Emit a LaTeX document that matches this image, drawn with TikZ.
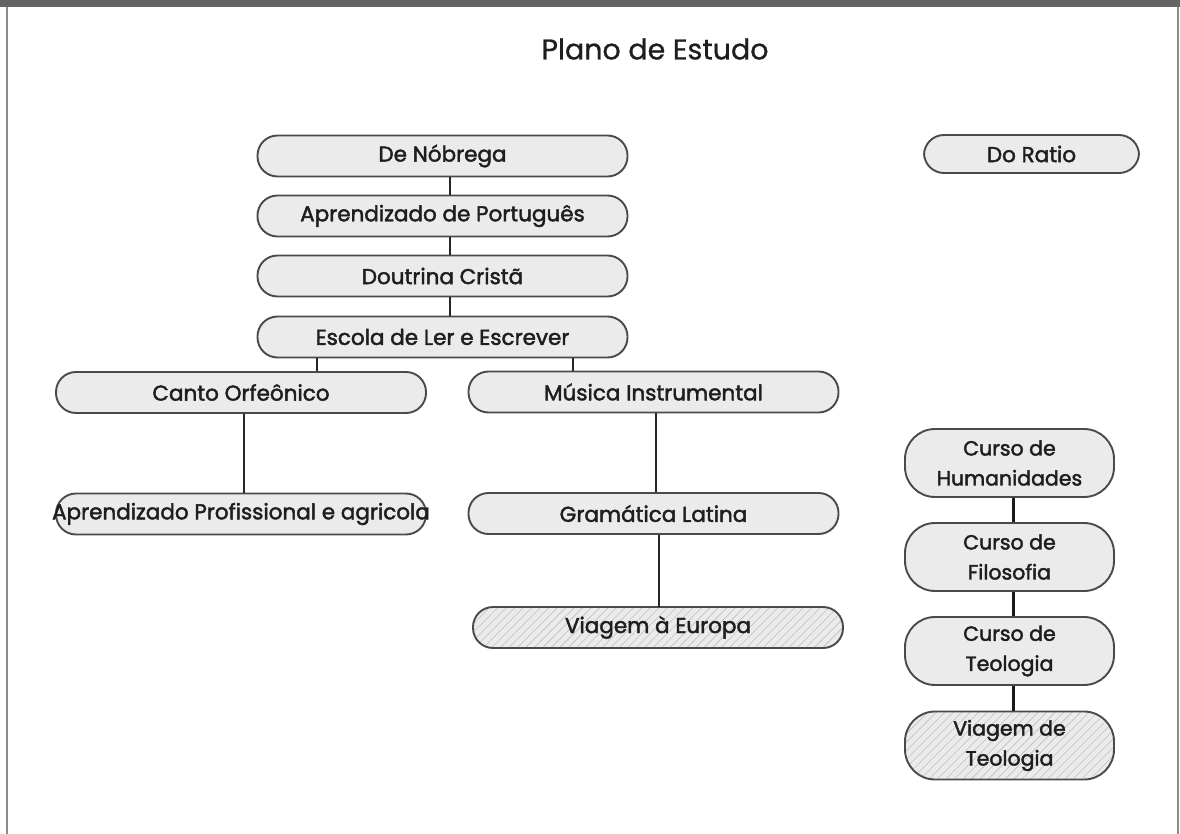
\documentclass[tikz,border=0pt]{standalone}
\usepackage{fontspec}
\setmainfont{Poppins}
\newfontfamily\boxfont{Poppins}[FakeBold=2]
\newfontfamily\titlefont{Poppins}[FakeBold=0.8]
\usetikzlibrary{patterns.meta}
\definecolor{boxfill}{HTML}{EBEBEB}
\definecolor{boxdraw}{HTML}{4A4A4A}
\definecolor{barcol}{HTML}{646464}
\definecolor{framecol}{HTML}{8C8C8C}
\definecolor{txt}{HTML}{1E1E1E}
\begin{document}
\begin{tikzpicture}[x=1pt,y=-1pt,
  box/.style={draw=boxdraw, line width=1.9pt, fill=boxfill, rounded corners=20pt,
    minimum width=370pt, minimum height=41pt, inner xsep=0pt, inner ysep=0pt,
    font=\boxfont\fontsize{21.5}{24}\selectfont, text=txt},
  tallbox/.style={box, rounded corners=30pt, minimum width=209pt, minimum height=68pt,
    align=center, font=\boxfont\fontsize{20.5}{30}\selectfont},
  hatch/.style={preaction={fill=boxfill}, pattern={Lines[angle=45,distance=6pt,line width=0.6pt]}, pattern color=black!25},
  link/.style={draw=black!85, line width=1.8pt},
  rlink/.style={draw=black!90, line width=3pt}]
\useasboundingbox (0,0) rectangle (1180,834);
\fill[white] (0,0) rectangle (1180,834);
\fill[barcol] (0,0) rectangle (1180,7);
\draw[framecol, line width=2pt] (7,7) -- (7,834);
\draw[framecol, line width=2pt] (1178,7) -- (1178,834);

\node[font=\titlefont\fontsize{28.5}{32}\selectfont, text=txt] (title) at (655,49) {Plano de Estudo};

\node[box] (n1) at (442.5,156) {De Nóbrega};
\node[box] (n2) at (442.5,216) {Aprendizado de Português};
\node[box] (n3) at (442.5,276) {Doutrina Cristã};
\node[box] (n4) at (442.5,337) {Escola de Ler e Escrever};
\node[box] (n5) at (241,392.5) {Canto Orfeônico};
\node[box] (n6) at (653.5,392) {Música Instrumental};
\node[box] (n7) at (241,514) {\makebox[370pt]{Aprendizado Profissional e agricola}};
\node[box] (n8) at (653.5,513.5) {Gramática Latina};
\node[box, hatch] (n9) at (658,627.5) {Viagem à Europa};

\node[box, minimum width=215pt, minimum height=38pt] (r0) at (1031.5,154) {Do Ratio};
\node[tallbox] (r1) at (1009.5,463) {Curso de\\Humanidades};
\node[tallbox] (r2) at (1009.5,557) {Curso de\\Filosofia};
\node[tallbox] (r3) at (1009.5,651) {Curso de\\Teologia};
\node[tallbox, hatch] (r4) at (1009.5,745.5) {Viagem de\\Teologia};

\coordinate (xa) at (450,0);
\coordinate (xb) at (317,0);
\coordinate (xc) at (573,0);
\coordinate (xd) at (244,0);
\coordinate (xe) at (656,0);
\coordinate (xf) at (659,0);
\coordinate (xg) at (1013,0);

\draw[link] (n1.south -| xa) -- (n2.north -| xa);
\draw[link] (n2.south -| xa) -- (n3.north -| xa);
\draw[link] (n3.south -| xa) -- (n4.north -| xa);
\draw[link] (n4.south -| xb) -- (n5.north -| xb);
\draw[link] (n4.south -| xc) -- (n6.north -| xc);
\draw[link] (n5.south -| xd) -- (n7.north -| xd);
\draw[link] (n6.south -| xe) -- (n8.north -| xe);
\draw[link] (n8.south -| xf) -- (n9.north -| xf);
\draw[rlink] (r1.south -| xg) -- (r2.north -| xg);
\draw[rlink] (r2.south -| xg) -- (r3.north -| xg);
\draw[rlink] (r3.south -| xg) -- (r4.north -| xg);
\end{tikzpicture}
\end{document}
